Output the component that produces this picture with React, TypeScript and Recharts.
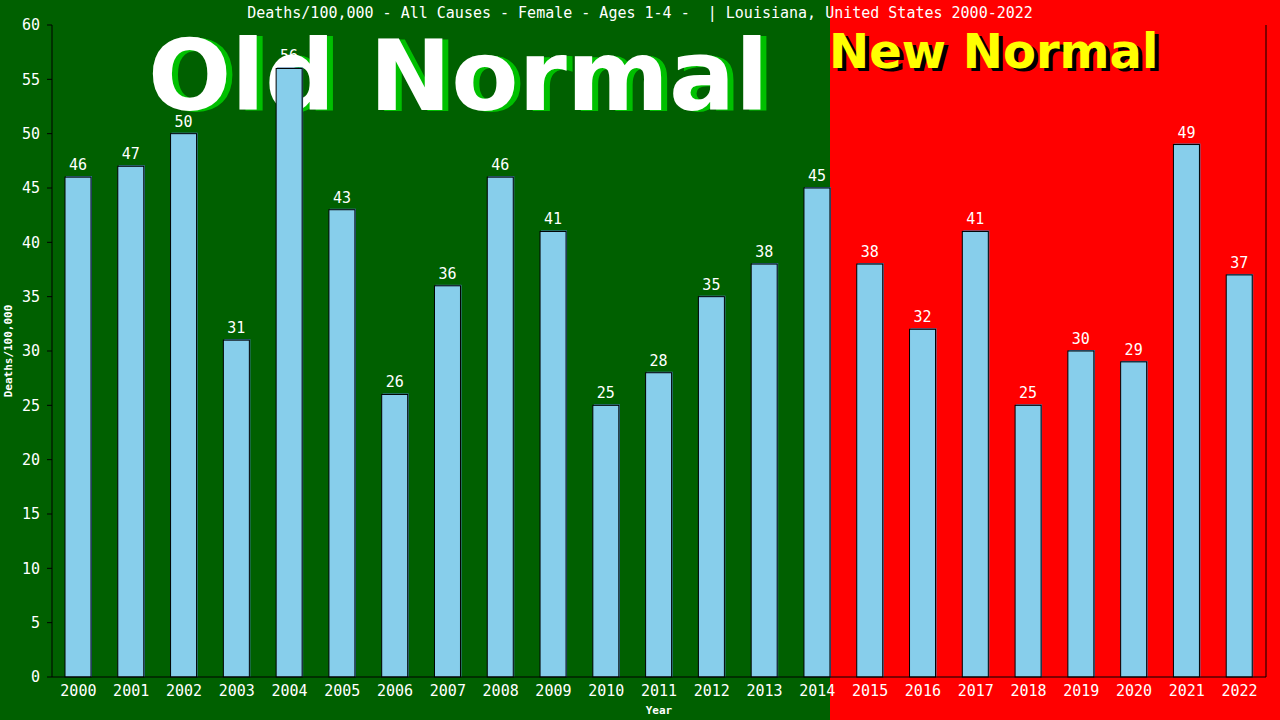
import { BarChart, Bar, XAxis, YAxis, LabelList, Label } from 'recharts';

const years = [
  '2000', '2001', '2002', '2003', '2004', '2005', '2006', '2007', '2008', '2009', '2010', '2011',
  '2012', '2013', '2014', '2015', '2016', '2017', '2018', '2019', '2020', '2021', '2022',
];
const deaths = [46, 47, 50, 31, 56, 43, 26, 36, 46, 41, 25, 28, 35, 38, 45, 38, 32, 41, 25, 30, 29, 49, 37];
const yTicks = [0, 5, 10, 15, 20, 25, 30, 35, 40, 45, 50, 55, 60];

const title = 'Deaths/100,000 - All Causes - Female - Ages 1-4 -  | Louisiana, United States 2000-2022';

const data = years.map((year, i) => ({ year, value: deaths[i] }));

const mono = '"DejaVu Sans Mono", "Liberation Mono", monospace';

function ShadowBar(props: any) {
  const { x, y, width, height } = props;
  if (!height) return null;
  return (
    <g>
      <rect x={x + 1} y={y - 1} width={width} height={height + 1} fill="#4682b4" />
      <rect x={x} y={y} width={width} height={height} fill="#87ceeb" stroke="#000" strokeWidth={1} />
    </g>
  );
}

export default function App() {
  return (
    <div
      style={{
        position: 'absolute',
        left: 0,
        top: 0,
        width: 1280,
        height: 720,
        background: 'linear-gradient(to right, #006000 0px, #006000 830px, #ff0000 830px, #ff0000 1280px)',
        overflow: 'hidden',
      }}
    >
      <svg width={1280} height={720} style={{ position: 'absolute', left: 0, top: 0 }}>
        <g fontFamily='"DejaVu Sans", Verdana, sans-serif' fontWeight="bold">
          <text x={154} y={111} fontSize={98} fill="#00c000">Old Normal</text>
          <text x={148} y={110} fontSize={98} fill="#ffffff">Old Normal</text>
          <text x={833} y={71} fontSize={48} fill="#000000">New Normal</text>
          <text x={829} y={68} fontSize={48} fill="#ffff00">New Normal</text>
        </g>
        <text x={640} y={18} textAnchor="middle" fontSize={15} fill="#ffffff" fontFamily={mono} style={{ whiteSpace: 'pre' }}>
          {title}
        </text>
      </svg>
      <div style={{ position: 'absolute', left: 0, top: 0 }}>
        <BarChart
          width={1280}
          height={720}
          data={data}
          margin={{ top: 25, right: 0, bottom: 0, left: 0 }}
          barSize={26}
        >
          <XAxis
            dataKey="year"
            stroke="#000"
            tickLine={false}
            tickSize={0}
            tickMargin={8}
            height={43}
            tick={{ fill: '#ffffff', fontSize: 15, fontFamily: mono }}
          >
            <Label
              value="Year"
              position="insideBottom"
              offset={6}
              fill="#ffffff"
              fontSize={11}
              fontWeight="bold"
              fontFamily={mono}
            />
          </XAxis>
          <YAxis
            yAxisId="l"
            width={52}
            domain={[0, 60]}
            ticks={yTicks}
            interval={0}
            stroke="#000"
            tickSize={5}
            tickMargin={7}
            tick={{ fill: '#ffffff', fontSize: 15, fontFamily: mono }}
          >
            <Label
              value="Deaths/100,000"
              angle={-90}
              position="insideLeft"
              offset={8}
              fill="#ffffff"
              fontSize={11}
              fontWeight="bold"
              fontFamily={mono}
              style={{ textAnchor: 'middle' }}
            />
          </YAxis>
          <YAxis yAxisId="r" orientation="right" width={14} domain={[0, 60]} stroke="#000" tick={false} tickLine={false} />
          <Bar yAxisId="l" dataKey="value" shape={ShadowBar} isAnimationActive={false}>
            <LabelList dataKey="value" position="top" offset={7} fill="#ffffff" fontSize={15} fontFamily={mono} />
          </Bar>
        </BarChart>
      </div>
    </div>
  );
}
